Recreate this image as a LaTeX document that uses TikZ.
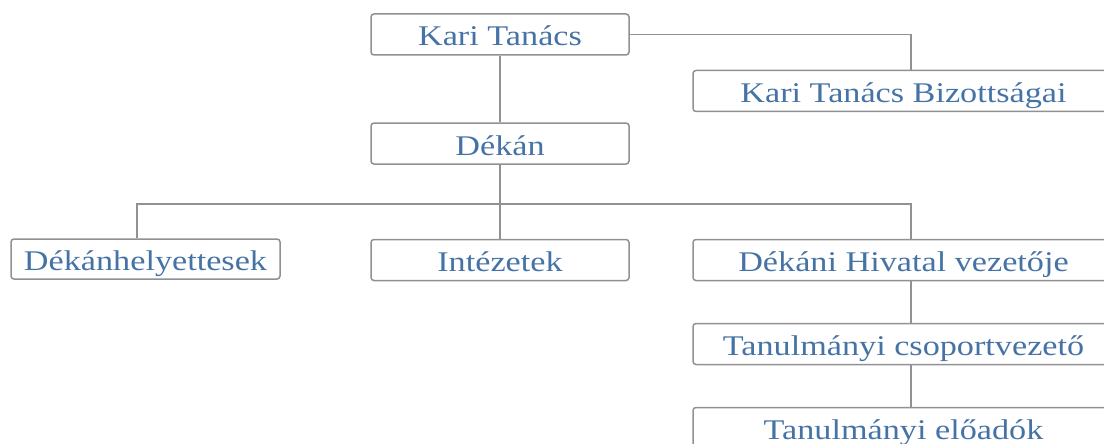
\documentclass[tikz,border=0pt]{standalone}
\usepackage{fontspec}
\setmainfont{Liberation Serif}[FakeStretch=1.2]
\definecolor{txtblue}{RGB}{70,115,165}
\definecolor{linegray}{RGB}{145,145,145}
\tikzset{
  orgbox/.style={draw=linegray, line width=1.5pt, rounded corners=3pt, fill=white,
    inner sep=0pt, text height=26pt, text depth=3pt, text=txtblue,
    font=\fontsize{28.5}{30}\selectfont, minimum height=41pt},
  narrowbox/.style={orgbox, minimum width=258pt},
  widebox/.style={orgbox, minimum width=421pt},
  conn/.style={draw=linegray, line width=1.5pt}
}
\begin{document}
\begin{tikzpicture}[x=1pt,y=-1pt]
\useasboundingbox (0,0) rectangle (1104,444);
\clip (0,0) rectangle (1104,444);
\fill[white] (0,0) rectangle (1104,444);
\node[narrowbox] (kt) at (500,34.5) {Kari Tanács};
\node[narrowbox] (dek) at (500,143.5) {Dékán};
\node[widebox] (biz) at (903.5,91) {Kari Tanács Bizottságai};
\node[orgbox, minimum width=269pt, minimum height=40pt] (dh) at (145.5,259) {Dékánhelyettesek};
\node[narrowbox] (int) at (500,260) {Intézetek};
\node[widebox] (dhv) at (903.5,260) {Dékáni Hivatal vezetője};
\node[widebox] (tcs) at (903.5,344) {Tanulmányi csoportvezető};
\node[widebox] (te) at (903.5,428) {Tanulmányi előadók};
\coordinate (bus) at (500,204);
\draw[conn] (kt.east) -| ([xshift=7.5pt]biz.north);
\draw[conn] (kt.south) -- (dek.north);
\draw[conn] (dek.south) -- (int.north);
\draw[conn] ([xshift=-8.5pt]dh.north) |- (bus) -| ([xshift=7.5pt]dhv.north);
\draw[conn] ([xshift=7.5pt]dhv.south) -- ([xshift=7.5pt]tcs.north);
\draw[conn] ([xshift=7.5pt]tcs.south) -- ([xshift=7.5pt]te.north);
\end{tikzpicture}
\end{document}
